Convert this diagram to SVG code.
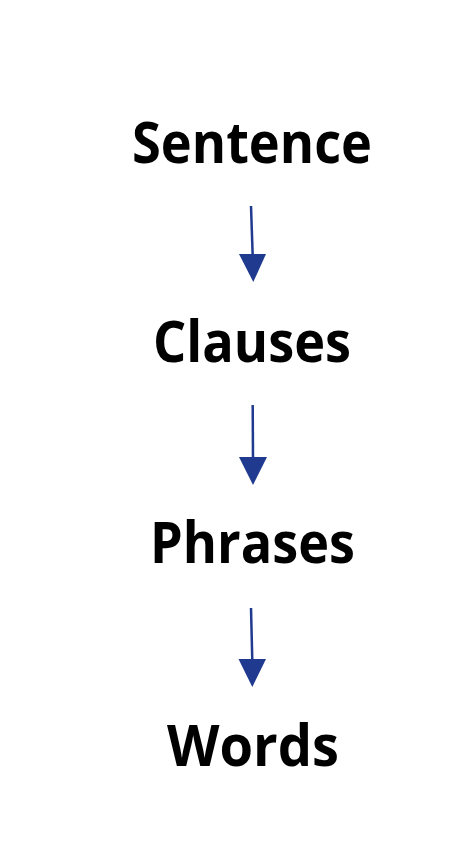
<svg xmlns="http://www.w3.org/2000/svg" width="457" height="842" viewBox="0 0 457 842">
<style>
.lbl{font-family:"Open Sans","Noto Sans","DejaVu Sans",sans-serif;font-weight:700;font-size:57px;fill:#000;text-anchor:middle}
.shaft{stroke:#1F3A8F;stroke-width:2.5;fill:none}
.head{fill:#1F3A8F}
</style>
<rect width="457" height="842" fill="#fff"/>
<g id="sentence"><text class="lbl" x="252" y="163" textLength="240" lengthAdjust="spacingAndGlyphs">Sentence</text></g>
<g id="clauses"><text class="lbl" x="252" y="362" textLength="198" lengthAdjust="spacingAndGlyphs">Clauses</text></g>
<g id="phrases"><text class="lbl" x="252.5" y="563" textLength="205" lengthAdjust="spacingAndGlyphs">Phrases</text></g>
<g id="words"><text class="lbl" x="253" y="766" textLength="172" lengthAdjust="spacingAndGlyphs">Words</text></g>
<g id="connectors">
<line class="shaft" x1="251" y1="206" x2="252.7" y2="256"/>
<polygon class="head" points="239,254 266,254 253.3,282"/>
<line class="shaft" x1="252.7" y1="405" x2="253" y2="459"/>
<polygon class="head" points="239,457 267,457 253,485"/>
<line class="shaft" x1="251" y1="608" x2="252.3" y2="661"/>
<polygon class="head" points="238.5,659 266,659 252.3,687"/>
</g>
</svg>
